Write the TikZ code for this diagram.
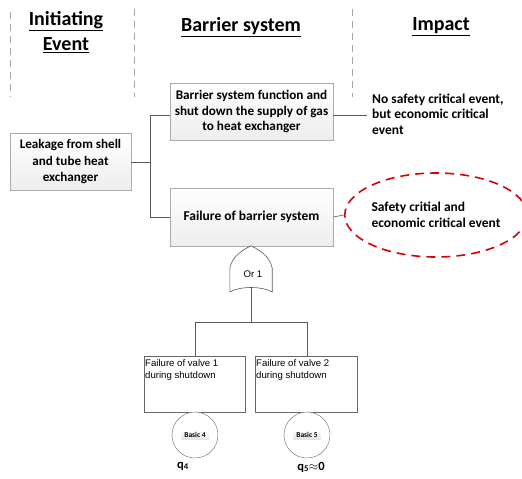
\documentclass[tikz,border=0pt]{standalone}
\usepackage{fontspec}
\setmainfont{Carlito}
\newfontfamily\arialf{Liberation Sans}
\usetikzlibrary{shapes.geometric}
\begin{document}
\begin{tikzpicture}[x=1pt,y={(0pt,-1pt)},
  hdr/.style={font=\bfseries\fontsize{20}{25}\selectfont, align=center},
  tbox/.style={draw=gray!65, top color=white, bottom color=gray!14, align=center, inner sep=0pt},
  ftbox/.style={draw=gray!80!black, fill=white, inner sep=2pt},
  plain/.style={font=\bfseries\fontsize{13.5}{15.5}\selectfont, align=left, inner sep=0pt},
  conn/.style={draw=gray!70!black, line width=0.6pt},
  sep/.style={draw=gray!70, line width=0.8pt, dash pattern=on 7pt off 5pt},
  basic/.style={circle, draw=gray!80!black, fill=white, minimum size=46pt, inner sep=0pt},
  blbl/.style={font=\bfseries\fontsize{7.5}{9}\selectfont, top color=white, bottom color=gray!22, inner xsep=3pt, inner ysep=1.5pt},
  vtxt/.style={font=\arialf\fontsize{9.6}{12}\selectfont, align=left, anchor=north west, inner sep=0pt}
]
\useasboundingbox (0,0) rectangle (522,479);
% separators
\coordinate (s1a) at (10,12); \coordinate (s1b) at (10,97);
\coordinate (s2a) at (134,9); \coordinate (s2b) at (134,97);
\coordinate (s3a) at (352,9); \coordinate (s3b) at (352,97);
\draw[sep] (s1a) -- (s1b);
\draw[sep] (s2a) -- (s2b);
\draw[sep] (s3a) -- (s3b);
% headers
\node[hdr] (hIE) at (66,32) {\underline{Initiating}\\\underline{Event}};
\node[hdr] (hBS) at (241,27) {\underline{Barrier system}};
\node[hdr] (hIM) at (441,27) {\underline{Impact}};
% boxes
\node[tbox, font=\bfseries\fontsize{13.2}{15.7}\selectfont, minimum width=163pt, minimum height=57pt] (bsf) at (251.5,111.5) {Barrier system function and\\shut down the supply of gas\\to heat exchanger};
\node[tbox, font=\bfseries\fontsize{13.1}{16.5}\selectfont, minimum width=121pt, minimum height=57pt] (leak) at (70.5,162) {Leakage from shell\\and tube heat\\exchanger};
\node[tbox, font=\bfseries\fontsize{13.5}{15.5}\selectfont, minimum width=163pt, minimum height=58pt] (fail) at (251.5,217) {Failure of barrier system};
\node[plain, anchor=west] (nse) at (372,114) {No safety critical event,\\but economic critical\\event};
\node[ellipse, draw=red!85!black, line width=1.6pt, dash pattern=on 9pt off 6pt, minimum width=168pt, minimum height=84pt, inner sep=0pt, plain] (sce) at (436,215) {Safety critial and\\economic critical event};
% connectors top
\coordinate (jl) at (150,162);
\coordinate (jt) at (150,115);
\coordinate (jb) at (150,217);
\coordinate (nsl) at (367,115);
\draw[conn] (leak.east |- jl) -- (jl);
\draw[conn] (jt -| bsf.west) -- (jt) -- (jb) -- (fail.west);
\draw[conn] (jt -| bsf.east) -- (nsl);
\draw[conn] (fail.east) -- (sce.west);
% OR gate
\node[minimum width=42pt, minimum height=46pt, inner sep=0pt] (gate) at (251,269) {};
\draw[conn, fill=white] (gate.west |- 0,292) -- (gate.west |- 0,268)
  .. controls (232,257) and (242,250) .. (gate.north)
  .. controls (260,250) and (270,257) .. (gate.east |- 0,268)
  -- (gate.east |- 0,292) .. controls (262,286) and (240,286) .. (gate.west |- 0,292);
\node[font=\arialf\fontsize{9.6}{11}\selectfont] (gl) at (253,274) {Or 1};
\coordinate (gb) at (251,288);
\coordinate (jm) at (251,322);
\coordinate (j4) at (195,322);
\coordinate (j5) at (307,322);
% valve boxes
\node[ftbox, minimum width=101pt, minimum height=56pt, anchor=north west] (v1) at (144,356) {};
\node[ftbox, minimum width=102pt, minimum height=56pt, anchor=north west] (v2) at (255,356) {};
\node[vtxt] (t1) at (145,359) {Failure of valve 1\\during shutdown};
\node[vtxt] (t2) at (256,359) {Failure of valve 2\\during shutdown};
\draw[conn] (gb) -- (jm);
\draw[conn] (j4) -- (j5);
\draw[conn] (j4) -- (j4 |- v1.north);
\draw[conn] (j5) -- (j5 |- v2.north);
% basic events
\node[basic] (b4) at (195,435) {};
\node[basic] (b5) at (307,435) {};
\node[blbl] (b4l) at (b4) {Basic 4};
\node[blbl] (b5l) at (b5) {Basic 5};
\node[font=\bfseries\fontsize{12.5}{14}\selectfont] (q4) at (183,466) {q\textsubscript{4}};
\node[font=\bfseries\fontsize{12.5}{14}\selectfont] (q5) at (311,467) {q\textsubscript{5}$\approx$0};
\end{tikzpicture}
\end{document}
